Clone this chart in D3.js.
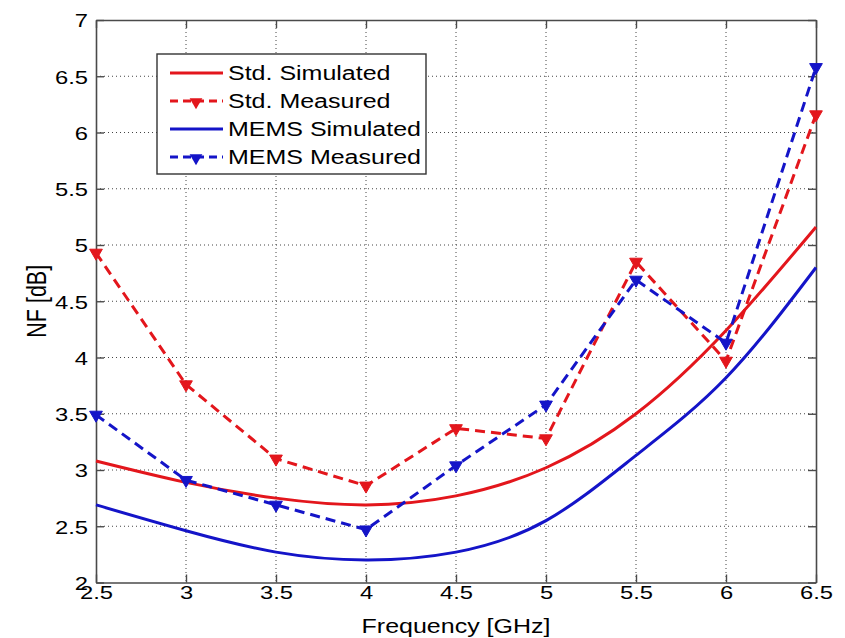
<!DOCTYPE html>
<html>
<head>
<meta charset="utf-8">
<script src="https://cdn.jsdelivr.net/npm/d3@7"></script>
<style>
  body { margin: 0; background: #fff; }
  svg text { font-family: "Liberation Sans", Arial, sans-serif; fill: #000; }
</style>
</head>
<body>
<div id="chart"></div>
<script>
'use strict';

// ------------------------------------
// DATA
// ------------------------------------
const freqs = [2.5, 3, 3.5, 4, 4.5, 5, 5.5, 6, 6.5];
const stdSim = [3.08, 2.89, 2.75, 2.69, 2.77, 3.02, 3.5, 4.24, 5.16];
const stdMeas = [4.93, 3.76, 3.1, 2.86, 3.37, 3.28, 4.85, 3.97, 6.16];
const memsSim = [2.69, 2.46, 2.27, 2.2, 2.27, 2.55, 3.13, 3.82, 4.8];
const memsMeas = [3.49, 2.91, 2.69, 2.47, 3.04, 3.58, 4.69, 4.13, 6.58];

const xTicks = [2.5, 3, 3.5, 4, 4.5, 5, 5.5, 6, 6.5];
const yTicks = [2, 2.5, 3, 3.5, 4, 4.5, 5, 5.5, 6, 6.5, 7];
const seriesNames = ["Std. Simulated", "Std. Measured", "MEMS Simulated", "MEMS Measured"];

// ------------------------------------
// SETUP
// ------------------------------------
const width = 845;
const height = 638;
const margin = { top: 20, right: 29, bottom: 55.5, left: 96 };
const innerWidth = width - margin.left - margin.right;
const innerHeight = height - margin.top - margin.bottom;

const red = "#e3161c";
const blue = "#1414c8";
const sx = 1.25; // text in the picture is stretched horizontally

const series = [
  { name: seriesNames[0], values: stdSim, color: red, dashed: false, marker: false },
  { name: seriesNames[1], values: stdMeas, color: red, dashed: true, marker: true },
  { name: seriesNames[2], values: memsSim, color: blue, dashed: false, marker: false },
  { name: seriesNames[3], values: memsMeas, color: blue, dashed: true, marker: true }
];

const svg = d3.select("#chart").append("svg")
  .attr("width", width)
  .attr("height", height);

const chart = svg.append("g")
  .attr("transform", `translate(${margin.left},${margin.top})`);

const x = d3.scaleLinear().domain([2.5, 6.5]).range([0, innerWidth]);
const y = d3.scaleLinear().domain([2, 7]).range([innerHeight, 0]);

// ------------------------------------
// GRID
// ------------------------------------
const grid = chart.append("g").attr("class", "grid")
  .attr("stroke", "#444").attr("stroke-width", 1).attr("stroke-dasharray", "1,3");

grid.selectAll(".gx").data(xTicks.slice(1, -1)).join("line")
  .attr("x1", d => x(d)).attr("x2", d => x(d))
  .attr("y1", 0).attr("y2", innerHeight);

grid.selectAll(".gy").data(yTicks.slice(1, -1)).join("line")
  .attr("y1", d => y(d)).attr("y2", d => y(d))
  .attr("x1", 0).attr("x2", innerWidth);

// ------------------------------------
// AXES (ticks inside, box all round)
// ------------------------------------
const axisColor = "#4a4a4a";
const fmt = d3.format("~g");

function styleAxis(g) {
  g.select(".domain").attr("stroke", axisColor).attr("stroke-width", 1.6);
  g.selectAll(".tick line").attr("stroke", axisColor).attr("stroke-width", 1.4);
  g.selectAll(".tick text").attr("font-size", 19).attr("fill", "#000");
}

const xAxisB = chart.append("g")
  .attr("transform", `translate(0,${innerHeight})`)
  .call(d3.axisBottom(x).tickValues(xTicks).tickFormat(fmt).tickSizeInner(-8).tickSizeOuter(0))
  .call(styleAxis);
xAxisB.selectAll(".tick text")
  .attr("y", 16).attr("dy", 0)
  .attr("transform", `scale(${sx},1)`);

chart.append("g")
  .call(d3.axisTop(x).tickValues(xTicks).tickSizeInner(-8).tickSizeOuter(0).tickFormat(""))
  .call(styleAxis);

const yAxisL = chart.append("g")
  .call(d3.axisLeft(y).tickValues(yTicks).tickFormat(fmt).tickSizeInner(-8).tickSizeOuter(0))
  .call(styleAxis);
yAxisL.selectAll(".tick text")
  .attr("x", -8 / sx).attr("dy", "0.36em")
  .attr("transform", `scale(${sx},1)`);

chart.append("g")
  .attr("transform", `translate(${innerWidth},0)`)
  .call(d3.axisRight(y).tickValues(yTicks).tickSizeInner(-8).tickSizeOuter(0).tickFormat(""))
  .call(styleAxis);

// Axis labels
chart.append("text")
  .attr("transform", `translate(${innerWidth / 2},${innerHeight + 50}) scale(${sx},1)`)
  .attr("text-anchor", "middle")
  .attr("font-size", 20)
  .text("Frequency [GHz]");

chart.append("text")
  .attr("transform", `translate(${-50},${innerHeight / 2}) rotate(-90) scale(1,${sx})`)
  .attr("text-anchor", "middle")
  .attr("font-size", 21.5)
  .text("NF [dB]");

// ------------------------------------
// LINES + MARKERS
// ------------------------------------
const lineSmooth = d3.line()
  .x((d, i) => x(freqs[i]))
  .y(d => y(d))
  .curve(d3.curveNatural);

const lineStraight = d3.line()
  .x((d, i) => x(freqs[i]))
  .y(d => y(d));

const tri = d3.symbol().type(d3.symbolTriangle).size(70);

const gLines = chart.append("g").attr("class", "lines");

series.forEach(s => {
  gLines.append("path")
    .attr("fill", "none")
    .attr("stroke", s.color)
    .attr("stroke-width", 3)
    .attr("stroke-dasharray", s.dashed ? "10,6" : null)
    .attr("d", s.dashed ? lineStraight(s.values) : lineSmooth(s.values));
});

series.filter(s => s.marker).forEach(s => {
  gLines.selectAll(null)
    .data(s.values)
    .join("path")
    .attr("transform", (d, i) => `translate(${x(freqs[i])},${y(d)}) rotate(180)`)
    .attr("d", tri)
    .attr("fill", s.color)
    .attr("stroke", s.color)
    .attr("stroke-width", 1);
});

// ------------------------------------
// LEGEND
// ------------------------------------
const legend = svg.append("g").attr("transform", "translate(157,54)");

legend.append("rect")
  .attr("width", 269).attr("height", 120)
  .attr("fill", "#fff")
  .attr("stroke", "#333").attr("stroke-width", 1.4);

const rows = legend.selectAll(".row")
  .data(series)
  .join("g")
  .attr("class", "row")
  .attr("transform", (d, i) => `translate(0,${19 + i * 28})`);

rows.append("line")
  .attr("x1", 13).attr("x2", 66)
  .attr("stroke", d => d.color)
  .attr("stroke-width", 3)
  .attr("stroke-dasharray", d => d.dashed ? "8,5" : null);

rows.filter(d => d.marker).append("path")
  .attr("transform", "translate(39,1) rotate(180)")
  .attr("d", tri)
  .attr("fill", d => d.color);

rows.append("text")
  .attr("transform", `translate(71,7) scale(${sx},1)`)
  .attr("font-size", 20)
  .text(d => d.name);
</script>
</body>
</html>
